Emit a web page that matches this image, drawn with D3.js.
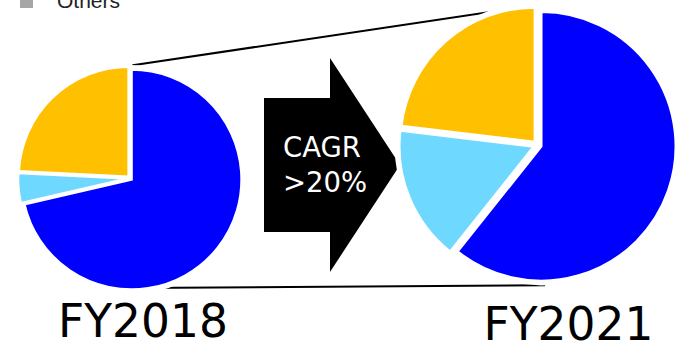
<!DOCTYPE html>
<html>
<head>
<meta charset="utf-8">
<script src="https://cdn.jsdelivr.net/npm/d3@7"></script>
<style>
  html, body { margin: 0; padding: 0; background: #fff; }
  svg { display: block; }
</style>
</head>
<body>
<svg id="chart" width="679" height="343"></svg>
<script>
// Revenue mix by segment, share of total (%)
const years = ["FY2018", "FY2021"];
const segments = ["Segment A", "Segment B", "Segment C"];
const shareFY2018 = [71.4, 4.4, 24.2];
const shareFY2021 = [60.7, 16.2, 23.1];
const segmentColors = ["#0000FF", "#6FD8FF", "#FFC000"];
const legendLabels = ["Others"];
const legendColors = ["#A6A6A6"];
const growthText = ["CAGR", ">20%"];

const svg = d3.select("#chart");
const W = 679, H = 343;
svg.append("rect").attr("width", W).attr("height", H).attr("fill", "#fff");

// Pie layouts: the later year is drawn larger to show growth
const pies = [
  { year: years[0], values: shareFY2018, cx: 130, cy: 178.3, r: 110, explode: 2, labelX: 143, labelY: 337 },
  { year: years[1], values: shareFY2021, cx: 537.5, cy: 145, r: 134.5, explode: 4, labelX: 568.5, labelY: 340 }
];

const pie = d3.pie().sort(null).value(d => d).startAngle(0).endAngle(2 * Math.PI);

// Connector lines between the two pies (top and bottom edges)
const connectors = svg.append("g").attr("stroke", "#000").attr("stroke-width", 2).attr("fill", "none");
connectors.append("line").attr("x1", 131).attr("y1", 65.5).attr("x2", 537).attr("y2", 5);
connectors.append("line").attr("x1", 135).attr("y1", 288).attr("x2", 545).attr("y2", 285.3);

// Growth arrow
const arrow = d3.path();
arrow.moveTo(264, 98);
arrow.lineTo(330, 98);
arrow.lineTo(330, 58);
arrow.lineTo(400, 165);
arrow.lineTo(330, 272);
arrow.lineTo(330, 232);
arrow.lineTo(264, 232);
arrow.closePath();
svg.append("path").attr("d", arrow.toString()).attr("fill", "#000");

svg.append("g")
  .selectAll("text")
  .data(growthText)
  .join("text")
  .attr("x", 283)
  .attr("y", (d, i) => 157 + i * 35)
  .attr("fill", "#fff")
  .attr("font-family", "'DejaVu Sans', Verdana, sans-serif")
  .attr("font-size", 27.5)
  .text(d => d);

// Pies
pies.forEach(p => {
  const arcs = pie(p.values);
  const arc = d3.arc().innerRadius(0).outerRadius(p.r);
  const offset = a => {
    const mid = (a.startAngle + a.endAngle) / 2;
    return [Math.sin(mid) * p.explode, -Math.cos(mid) * p.explode];
  };
  const g = svg.append("g").attr("transform", `translate(${p.cx},${p.cy})`);

  // white outline around each slice
  g.append("g").selectAll("path")
    .data(arcs)
    .join("path")
    .attr("transform", a => `translate(${offset(a)})`)
    .attr("d", arc)
    .attr("fill", "#fff")
    .attr("stroke", "#fff")
    .attr("stroke-width", 9)
    .attr("stroke-linejoin", "round");

  g.append("g").selectAll("path")
    .data(arcs)
    .join("path")
    .attr("transform", a => `translate(${offset(a)})`)
    .attr("d", arc)
    .attr("fill", (a, i) => segmentColors[i])
    .attr("stroke", "#fff")
    .attr("stroke-width", 2.5)
    .attr("stroke-linejoin", "miter");

  svg.append("text")
    .attr("x", p.labelX)
    .attr("y", p.labelY)
    .attr("text-anchor", "middle")
    .attr("fill", "#000")
    .attr("font-family", "'DejaVu Sans', Verdana, sans-serif")
    .attr("font-size", 45.5)
    .text(p.year);
});

// Legend (only the last entry falls inside the view)
const legend = svg.append("g").selectAll("g")
  .data(legendLabels)
  .join("g")
  .attr("transform", (d, i) => `translate(0, ${i * 26})`);
legend.append("rect")
  .attr("x", 20).attr("y", -5).attr("width", 13).attr("height", 13)
  .attr("fill", (d, i) => legendColors[i]);
legend.append("text")
  .attr("x", 57).attr("y", 7.5)
  .attr("fill", "#222")
  .attr("font-family", "'Liberation Sans', Arial, sans-serif")
  .attr("font-size", 21)
  .text(d => d);
</script>
</body>
</html>
